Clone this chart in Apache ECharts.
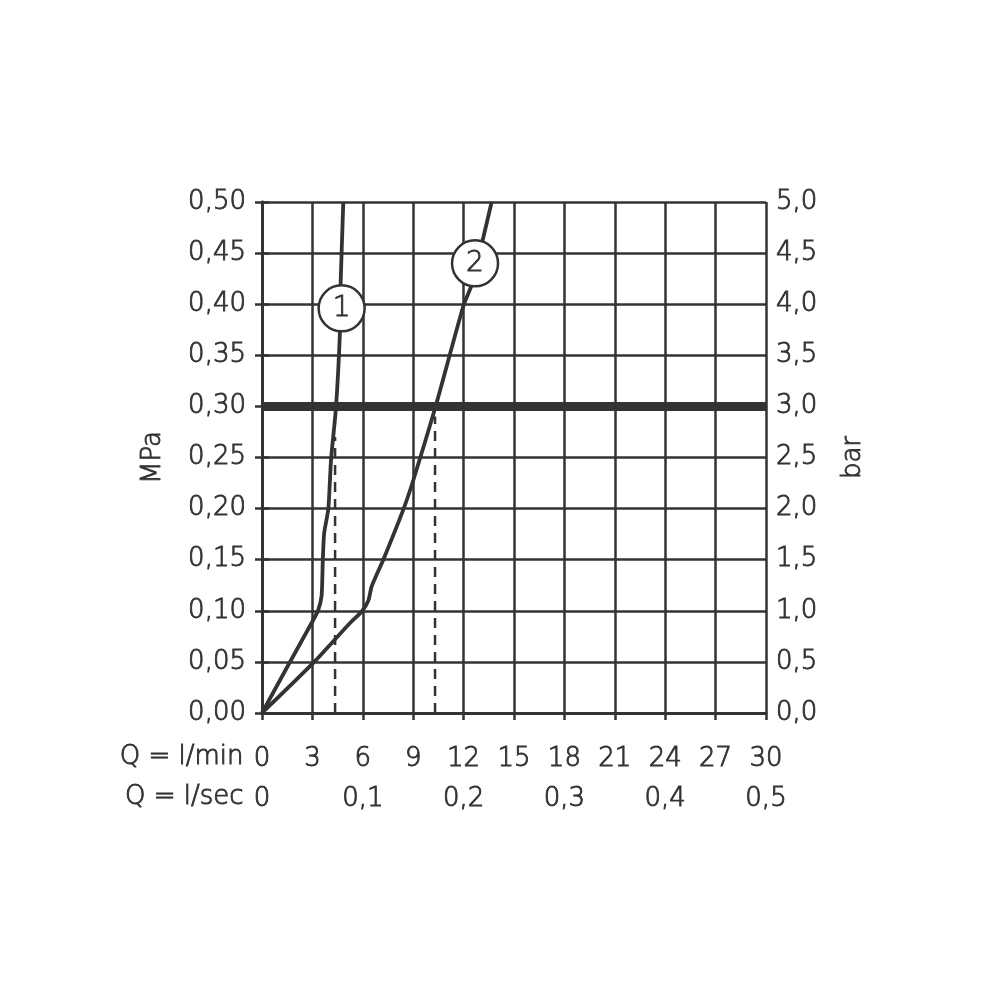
<!DOCTYPE html>
<html>
<head>
<meta charset="utf-8">
<style>html,body{margin:0;padding:0;background:#fff;}#c{width:1000px;height:1000px;}</style>
<script src="https://cdn.jsdelivr.net/npm/echarts@6/dist/echarts.min.js"></script>
</head>
<body>
<div id="c"></div>
<script>
// Flow (l/min) vs pressure (MPa)
const curve1 = [[0,0],[1.5,0.045],[3.05,0.091],[3.35,0.101],[3.55,0.115],[3.62,0.15],[3.7,0.176],[3.95,0.2],[4.11,0.248],[4.4,0.298],[4.64,0.373],[4.68,0.42],[4.84,0.5]];
const curve2 = [[0,0],[3.05,0.049],[5.24,0.088],[5.93,0.099],[6.33,0.11],[6.53,0.124],[7.22,0.15],[8.41,0.199],[9.01,0.228],[10.3,0.298],[11.98,0.398],[12.48,0.419],[13.67,0.5]];
const dash1 = [[4.35,0],[4.35,0.27]];
const dash2 = [[10.3,0],[10.3,0.29]];
const refLine = [[0,0.3],[30,0.3]];
const markers = [[4.74,0.396,'1'],[12.68,0.44,'2']];
const xTitle1 = 'Q = l/min';
const xTitle2 = 'Q = l/sec';
const yTitleLeft = 'MPa';
const yTitleRight = 'bar';

const C = '#333333';
const FONT = '"DejaVu Sans ExtraLight", "DejaVu Sans", sans-serif';
const W = 200;
const TB = {textBorderColor: C, textBorderWidth: 0.9};
const lab = Object.assign({color: C, fontFamily: FONT, fontSize: 26, fontWeight: W}, TB);
const comma = (v, d) => v.toFixed(d).replace('.', ',');

const chart = echarts.init(document.getElementById('c'), null, {renderer: 'canvas'});
chart.setOption({
  backgroundColor: '#fff',
  animation: false,
  grid: {left: 262, right: 234, top: 202, bottom: 287, containLabel: false},
  xAxis: [
    {type: 'value', min: 0, max: 30, interval: 3, position: 'bottom',
     axisLine: {show: true, lineStyle: {color: C, width: 3}},
     axisTick: {show: true, length: 7, lineStyle: {color: C, width: 2.5}},
     axisLabel: Object.assign({margin: 33, formatter: v => String(v)}, lab),
     splitLine: {show: true, lineStyle: {color: C, width: 2.5}}},
    {type: 'value', min: 0, max: 0.5, interval: 0.1, position: 'bottom', offset: 40,
     axisLine: {show: false}, axisTick: {show: false},
     axisLabel: Object.assign({margin: 33, formatter: v => v === 0 ? '0' : comma(v, 1)}, lab),
     splitLine: {show: false}}
  ],
  yAxis: [
    {type: 'value', min: 0, max: 0.5, interval: 0.05, position: 'left',
     name: yTitleLeft, nameLocation: 'middle', nameRotate: 90, nameGap: 96,
     nameTextStyle: Object.assign({color: C, fontFamily: FONT, fontSize: 26, fontWeight: W}, TB),
     axisLine: {show: true, lineStyle: {color: C, width: 3}},
     axisTick: {show: true, length: 7, lineStyle: {color: C, width: 2.5}},
     axisLabel: Object.assign({margin: 16, formatter: v => comma(v, 2)}, lab),
     splitLine: {show: true, lineStyle: {color: C, width: 2.5}}},
    {type: 'value', min: 0, max: 5, interval: 0.5, position: 'right',
     name: yTitleRight, nameLocation: 'middle', nameRotate: 90, nameGap: 74,
     nameTextStyle: Object.assign({color: C, fontFamily: FONT, fontSize: 26, fontWeight: W}, TB),
     axisLine: {show: true, lineStyle: {color: C, width: 3}},
     axisTick: {show: true, length: 7, lineStyle: {color: C, width: 2.5}},
     axisLabel: Object.assign({margin: 10, formatter: v => comma(v, 1)}, lab),
     splitLine: {show: false}}
  ],
  graphic: [
    {type: 'text', right: 1000 - 244, top: 744, style: {text: xTitle1, fill: C, stroke: C, lineWidth: 0.9, font: W + ' 26px ' + FONT}},
    {type: 'text', right: 1000 - 244, top: 784, style: {text: xTitle2, fill: C, stroke: C, lineWidth: 0.9, font: W + ' 26px ' + FONT}}
  ],
  series: [
    {type: 'line', data: refLine, symbol: 'none', lineStyle: {color: C, width: 9}, z: 3},
    {type: 'line', data: dash1, symbol: 'none', lineStyle: {color: C, width: 2.5, type: [10, 7]}, z: 3},
    {type: 'line', data: dash2, symbol: 'none', lineStyle: {color: C, width: 2.5, type: [10, 7]}, z: 3},
    {type: 'line', data: curve1, symbol: 'none', smooth: 0.2, lineStyle: {color: C, width: 3.8}, z: 4},
    {type: 'line', data: curve2, symbol: 'none', smooth: 0.2, lineStyle: {color: C, width: 3.8}, z: 4},
    {type: 'scatter', data: markers.map(m => ({value: [m[0], m[1]], name: m[2]})),
     symbol: 'circle', symbolSize: 46,
     itemStyle: {color: '#fff', borderColor: C, borderWidth: 2.5, opacity: 1},
     label: Object.assign({show: true, position: 'inside', formatter: p => p.name, color: C, fontFamily: FONT, fontSize: 28, fontWeight: W}, TB),
     z: 5}
  ]
});
</script>
</body>
</html>
